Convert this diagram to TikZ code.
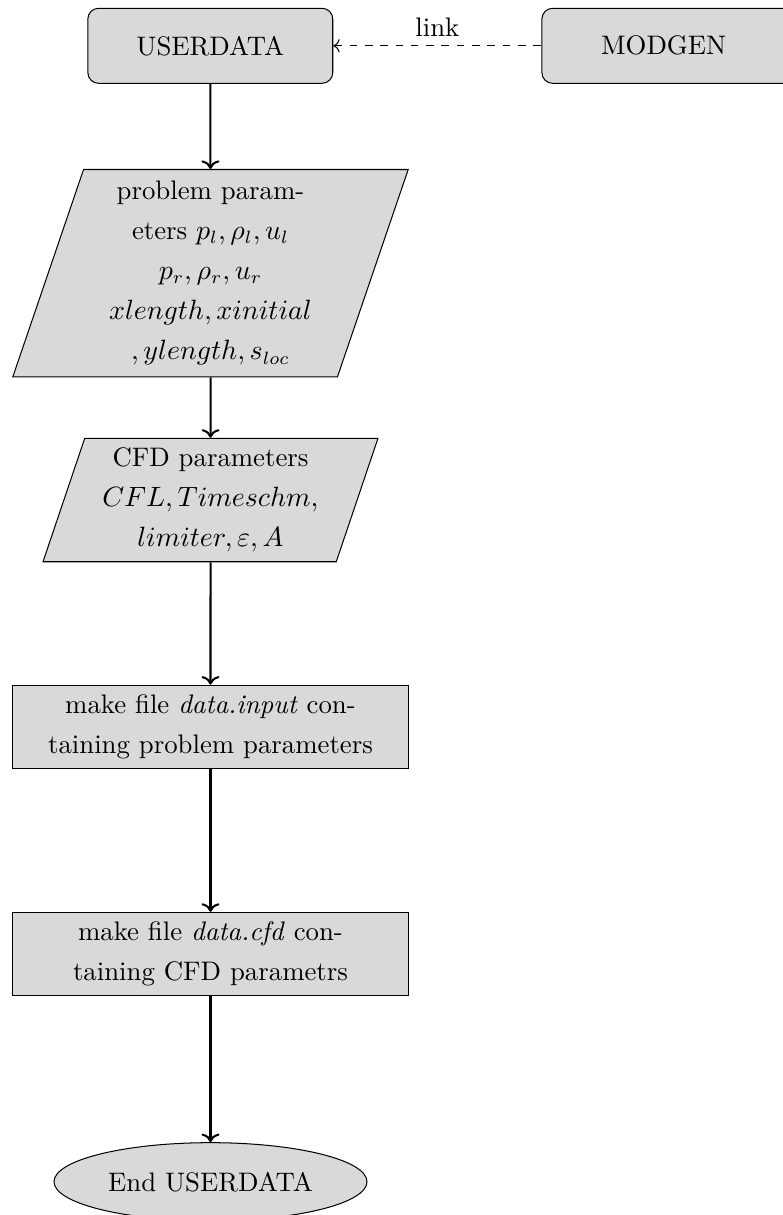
\documentclass[tikz,border=0pt]{standalone}
\usetikzlibrary{shapes.geometric,arrows.meta}
\begin{document}
\begin{tikzpicture}[x=0.392pt,y=-0.392pt,
  txt/.style={font=\fontsize{10.5}{15.7}\selectfont},
  base/.style={txt,draw,fill=gray!30,line width=0.4pt,inner sep=2pt,align=center},
  term/.style={base,rectangle,rounded corners=4.2pt,minimum width=96pt,minimum height=29.4pt},
  io/.style={base,trapezium,trapezium left angle=70,trapezium right angle=110,
    trapezium stretches body},
  proc/.style={base,rectangle,minimum width=155.3pt,minimum height=32.5pt},
  stop/.style={base,ellipse,minimum width=122.7pt,minimum height=30.6pt},
  flow/.style={->,thick},
  linkline/.style={<-,dashed,line width=0.4pt}]
\useasboundingbox (0,0) rectangle (782,1215);

% top row (the MODGEN box runs past the right edge)
\node[term] (ud) at (210.3,45.8) {USERDATA};
\node[term,minimum width=102pt] (mg) at (672,45.8) {MODGEN\hspace*{6.5pt}};
\draw[linkline] (ud.east) -- node[txt,above] (lk) {link} (mg.west);

% input blocks
\node[io,minimum width=155pt,minimum height=81.3pt] (pp) at (210.5,273.2)
  {problem param-\\eters $p_l,\rho_l,u_l$\\$p_r,\rho_r,u_r$\\$xlength,xinitial$\\$,ylength,s_{loc}$};
\node[io,minimum width=131.3pt,minimum height=48.4pt] (cp) at (210.5,500)
  {CFD parameters\\$CFL,Timeschm,$\\$limiter,\varepsilon,A$};

% file generation
\node[proc] (fi) at (210.5,726.6)
  {make file \textit{data.input} con-\\taining problem parameters};
\node[proc] (fc) at (210.5,953.8)
  {make file \textit{data.cfd} con-\\taining CFD parametrs};

% end
\node[stop] (en) at (210.5,1181.7) {End USERDATA};

\draw[flow] (ud) -- (pp);
\draw[flow] (pp) -- (cp);
\draw[flow] (cp) -- (fi);
\draw[flow] (fi) -- (fc);
\draw[flow] (fc) -- (en);
\end{tikzpicture}
\end{document}
